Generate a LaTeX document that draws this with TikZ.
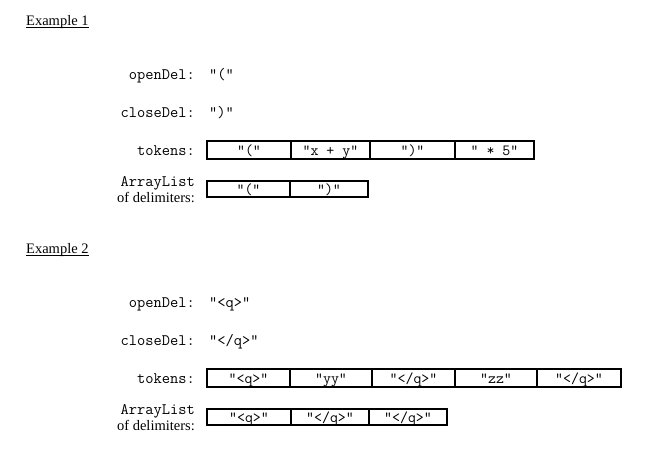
\documentclass[tikz,border=0pt]{standalone}
\usepackage{fontspec}
\setmainfont{Liberation Serif}
\tikzset{
  lbl/.style={inner sep=0pt, anchor=base east, font=\fontsize{16}{18}\selectfont\ttfamily},
  lbls/.style={inner sep=0pt, anchor=base east, font=\fontsize{14.5}{17}\selectfont\rmfamily},
  val/.style={inner sep=0pt, anchor=base west, font=\fontsize{16}{18}\selectfont\ttfamily},
  head/.style={inner sep=0pt, anchor=base west, font=\fontsize{14.5}{17}\selectfont\rmfamily},
  cell/.style={draw, line width=1.2pt, inner sep=0pt, text height=10pt, text depth=0pt,
    font=\fontsize{15.5}{18}\selectfont\ttfamily},
  uline/.style={line width=0.8pt}
}
\begin{document}
\begin{tikzpicture}[x=1pt,y=-1pt]
\useasboundingbox (0,0) rectangle (651,448);
% Example 1
\node[head] (h1) at (26,25) {Example 1};
\draw[uline] ([yshift=-2pt]h1.base west) -- ([yshift=-2pt]h1.base east);
\node[lbl] (o1) at (195,79) {openDel:};
\node[val] (ov1) at (209,79) {"("};
\node[lbl] (c1) at (195,117) {closeDel:};
\node[val] (cv1) at (209,117) {")"};
\node[lbl] (t1) at (195,155) {tokens:};
\foreach \a/\b/\t [count=\i] in {207/291/{"("},291/370/{"x + y"},370/455/{")"},455/534/{" * 5"}}
  \node[cell, minimum width={(\b-\a)*1pt}, minimum height=18pt] (tc1-\i) at ({(\a+\b)/2},150) {\t};
\node[lbl] (a1) at (195,186) {ArrayList};
\node[lbls] (d1) at (195,202) {of delimiters:};
\foreach \a/\b/\t [count=\i] in {207/290/{"("},290/368/{")"}}
  \node[cell, minimum width={(\b-\a)*1pt}, minimum height=16pt] (ac1-\i) at ({(\a+\b)/2},189) {\t};
% Example 2
\node[head] (h2) at (26,253) {Example 2};
\draw[uline] ([yshift=-2pt]h2.base west) -- ([yshift=-2pt]h2.base east);
\node[lbl] (o2) at (195,307) {openDel:};
\node[val] (ov2) at (209,307) {"<q>"};
\node[lbl] (c2) at (195,345) {closeDel:};
\node[val] (cv2) at (209,345) {"</q>"};
\node[lbl] (t2) at (195,383) {tokens:};
\foreach \a/\b/\t [count=\i] in {207/290/{"<q>"},290/372/{"yy"},372/455/{"</q>"},455/537/{"zz"},537/621/{"</q>"}}
  \node[cell, minimum width={(\b-\a)*1pt}, minimum height=18pt] (tc2-\i) at ({(\a+\b)/2},378) {\t};
\node[lbl] (a2) at (195,414) {ArrayList};
\node[lbls] (d2) at (195,430) {of delimiters:};
\foreach \a/\b/\t [count=\i] in {207/291/{"<q>"},291/369/{"</q>"},369/447/{"</q>"}}
  \node[cell, minimum width={(\b-\a)*1pt}, minimum height=16pt] (ac2-\i) at ({(\a+\b)/2},417) {\t};
\end{tikzpicture}
\end{document}
